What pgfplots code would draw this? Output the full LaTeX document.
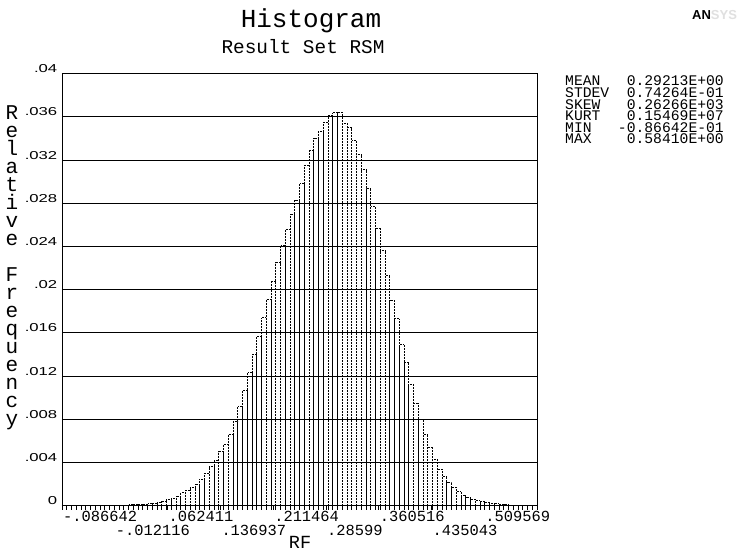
\documentclass[border=0pt]{standalone}
\usepackage{fontspec}
\usepackage{graphicx}
\setmainfont{Liberation Mono}
\newfontfamily\sansf{Liberation Sans}
\usepackage{pgfplots}
\usepackage{pgfplotstable}
\pgfplotsset{compat=1.18}
\newcommand\yl[1]{\scalebox{1.45}[1]{#1}}

% relative frequency per bin, 100 bins from MIN to MAX (last row closes the interval)
\pgfplotstableread{
bin freq
0 0
1 0
2 0
3 0.00001
4 0.00001
5 0.00001
6 0.00002
7 0.00002
8 0.00003
9 0.00003
10 0.00004
11 0.00005
12 0.00006
13 0.00007
14 0.00009
15 0.00011
16 0.00013
17 0.00016
18 0.00019
19 0.00023
20 0.0003
21 0.0004
22 0.00055
23 0.0007
24 0.0009
25 0.0012
26 0.00145
27 0.00165
28 0.002
29 0.00245
30 0.003
31 0.0036
32 0.0042
33 0.005
34 0.0057
35 0.0066
36 0.0078
37 0.0092
38 0.0107
39 0.0123
40 0.014
41 0.0157
42 0.0174
43 0.0191
44 0.0208
45 0.0225
46 0.0241
47 0.0256
48 0.027
49 0.0283
50 0.0298
51 0.0315
52 0.0329
53 0.0340
54 0.0347
55 0.0355
56 0.0361
57 0.0364
58 0.0364
59 0.0354
60 0.0350
61 0.0338
62 0.0325
63 0.0311
64 0.0294
65 0.0277
66 0.0257
67 0.0236
68 0.0213
69 0.0190
70 0.0173
71 0.0149
72 0.0133
73 0.0112
74 0.0095
75 0.0080
76 0.0066
77 0.0054
78 0.0043
79 0.0034
80 0.0027
81 0.0022
82 0.0017
83 0.0013
84 0.0010
85 0.0008
86 0.0006
87 0.00048
88 0.00038
89 0.0003
90 0.00024
91 0.00018
92 0.00014
93 0.0001
94 0.00007
95 0.00005
96 0.00003
97 0.00002
98 0.00001
99 0.00001
100 0
}\rfdata

\begin{document}
\begin{tikzpicture}[x=1pt,y=1pt]
\path[use as bounding box, fill=white] (0,0) rectangle (756,552);
\begin{axis}[
  at={(87.5,43)}, anchor=south west,
  scale only axis, width=475pt, height=432pt,
  xmin=-0.086642, xmax=0.5841, ymin=0, ymax=0.04,
  axis line style={line width=0.7pt},
  scaled y ticks=false, scaled x ticks=false,
  ytick={0,0.004,0.008,0.012,0.016,0.02,0.024,0.028,0.032,0.036,0.04},
  yticklabels={\yl{0},\yl{.004},\yl{.008},\yl{.012},\yl{.016},\yl{.02},\yl{.024},\yl{.028},\yl{.032},\yl{.036},\yl{.04}},
  ymajorgrids, grid style={black, line width=0.7pt},
  ytick style={draw=none},
  yticklabel style={font=\sansf\fontsize{11.5}{11.5}\selectfont, anchor=south east, inner sep=0.5pt},
  xtick={-0.086642,-0.012116,0.062411,0.136937,0.211464,0.28599,0.360516,0.435043,0.509569},
  xticklabels={-.086642,-.012116,.062411,.136937,.211464,.28599,.360516,.435043,.509569},
  xticklabel style={font=\fontsize{15.4}{15.4}\selectfont, anchor=north west, inner sep=1pt, yshift={-mod(\ticknum,2)*14pt}},
  minor xtick={-0.086642,-0.07993458,...,0.5842},
  xtick pos=bottom, ytick pos=left,
  tick align=outside, major tick length=4pt, minor tick length=4pt,
  xtick style={black, line width=0.5pt},
]
\addplot[ybar interval, draw=black, densely dotted, line width=0.5pt, fill=none]
  table[x expr={-0.086642+0.00670742*\thisrow{bin}}, y=freq] {\rfdata};
\end{axis}

\node[anchor=base, font=\fontsize{26}{26}\selectfont] at (311,524) {Histogram};
\node[anchor=base, font=\fontsize{19.4}{19.4}\selectfont] at (303,498) {Result Set RSM};
\node[anchor=base, font=\fontsize{18.5}{18.5}\selectfont] at (300,3) {RF};

\node[align=center, font=\fontsize{21}{18}\selectfont, inner sep=0pt] at (12,284) {R\\e\\l\\a\\t\\i\\v\\e\\\mbox{}\\F\\r\\e\\q\\u\\e\\n\\c\\y};

\begin{scope}[every node/.style={font=\fontsize{14.7}{14.7}\selectfont, inner sep=0pt}]
\node[anchor=base west] at (565,466) {MEAN};
\node[anchor=base west] at (565,454.4) {STDEV};
\node[anchor=base west] at (565,442.8) {SKEW};
\node[anchor=base west] at (565,431.2) {KURT};
\node[anchor=base west] at (565,419.6) {MIN};
\node[anchor=base west] at (565,408) {MAX};
\node[anchor=base east] at (724,466) {0.29213E+00};
\node[anchor=base east] at (724,454.4) {0.74264E-01};
\node[anchor=base east] at (724,442.8) {0.26266E+03};
\node[anchor=base east] at (724,431.2) {0.15469E+07};
\node[anchor=base east] at (724,419.6) {-0.86642E-01};
\node[anchor=base east] at (724,408) {0.58410E+00};
\end{scope}

\node[anchor=base west, font=\sansf\bfseries\fontsize{13}{13}\selectfont, inner sep=0pt] at (692,532) {AN\textcolor{black!12}{SYS}};
\end{tikzpicture}
\end{document}
